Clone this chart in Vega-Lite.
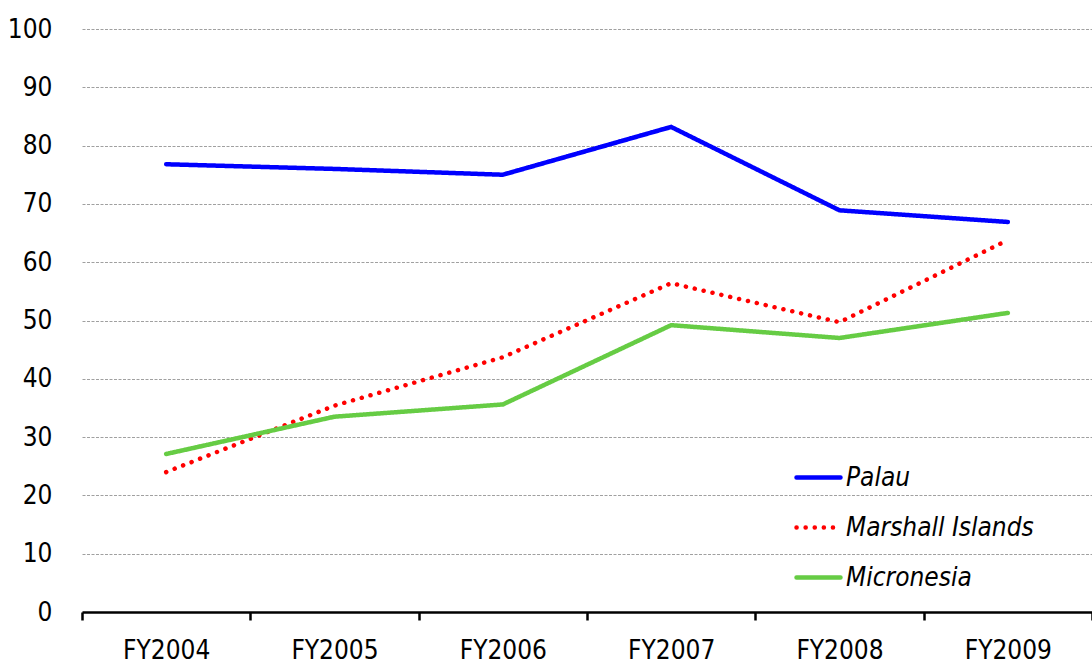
{
  "$schema": "https://vega.github.io/schema/vega-lite/v6.json",
  "width": 1010,
  "height": 583,
  "autosize": {"type": "none"},
  "padding": {"left": 82, "top": 29, "right": 0, "bottom": 54},
  "background": "white",
  "config": {
    "view": {"stroke": null},
    "font": "DejaVu Sans Condensed, sans-serif"
  },
  "data": {
    "values": [
      {"year": "FY2004", "series": "Palau", "value": 76.8},
      {"year": "FY2005", "series": "Palau", "value": 76.0},
      {"year": "FY2006", "series": "Palau", "value": 75.0},
      {"year": "FY2007", "series": "Palau", "value": 83.2},
      {"year": "FY2008", "series": "Palau", "value": 68.9},
      {"year": "FY2009", "series": "Palau", "value": 66.9},
      {"year": "FY2004", "series": "Marshall Islands", "value": 24.0},
      {"year": "FY2005", "series": "Marshall Islands", "value": 35.4},
      {"year": "FY2006", "series": "Marshall Islands", "value": 43.7},
      {"year": "FY2007", "series": "Marshall Islands", "value": 56.4},
      {"year": "FY2008", "series": "Marshall Islands", "value": 49.7},
      {"year": "FY2009", "series": "Marshall Islands", "value": 63.8},
      {"year": "FY2004", "series": "Micronesia", "value": 27.1},
      {"year": "FY2005", "series": "Micronesia", "value": 33.5},
      {"year": "FY2006", "series": "Micronesia", "value": 35.6},
      {"year": "FY2007", "series": "Micronesia", "value": 49.2},
      {"year": "FY2008", "series": "Micronesia", "value": 47.0},
      {"year": "FY2009", "series": "Micronesia", "value": 51.3}
    ]
  },
  "mark": {"type": "line", "strokeWidth": 4.5, "strokeCap": "round", "strokeJoin": "miter"},
  "encoding": {
    "x": {
      "field": "year",
      "type": "nominal",
      "scale": {"type": "band", "paddingInner": 0, "paddingOuter": 0},
      "axis": {
        "title": null,
        "labelAngle": 0,
        "labelFont": "DejaVu Sans Condensed, sans-serif",
        "labelFontSize": 26,
        "labelColor": "black",
        "labelPadding": 17,
        "domainColor": "black",
        "domainWidth": 2.5,
        "tickColor": "black",
        "tickWidth": 2.5,
        "tickSize": 8,
        "tickBand": "extent",
        "grid": false
      }
    },
    "y": {
      "field": "value",
      "type": "quantitative",
      "scale": {"domain": [0, 100], "nice": false},
      "axis": {
        "title": null,
        "values": [0, 10, 20, 30, 40, 50, 60, 70, 80, 90, 100],
        "labelFont": "DejaVu Sans Condensed, sans-serif",
        "labelFontSize": 26,
        "labelColor": "black",
        "labelPadding": 30,
        "domain": false,
        "ticks": false,
        "grid": true,
        "gridColor": "#a0a0a0",
        "gridWidth": 1,
        "gridDash": [3, 1.5]
      }
    },
    "color": {
      "field": "series",
      "type": "nominal",
      "scale": {
        "domain": ["Palau", "Marshall Islands", "Micronesia"],
        "range": ["#0000ff", "#ff0000", "#66cc44"]
      },
      "legend": {
        "title": null,
        "orient": "none",
        "legendX": 712,
        "legendY": 424,
        "padding": 0,
        "symbolType": "stroke",
        "symbolSize": 1936,
        "symbolStrokeWidth": 4.5,
        "labelFont": "DejaVu Sans Condensed, sans-serif",
        "labelFontSize": 26,
        "labelFontStyle": "italic",
        "labelColor": "black",
        "labelOffset": 3,
        "rowPadding": 12,
        "labelLimit": 400,
        "symbolDash": [0.1, 9],
        "encode": {
          "symbols": {"update": {"strokeCap": {"value": "round"}}}
        }
      }
    },
    "strokeDash": {
      "field": "series",
      "type": "nominal",
      "scale": {
        "domain": ["Palau", "Marshall Islands", "Micronesia"],
        "range": [[1, 0], [0.1, 9], [1, 0]]
      },
      "legend": null
    }
  }
}
